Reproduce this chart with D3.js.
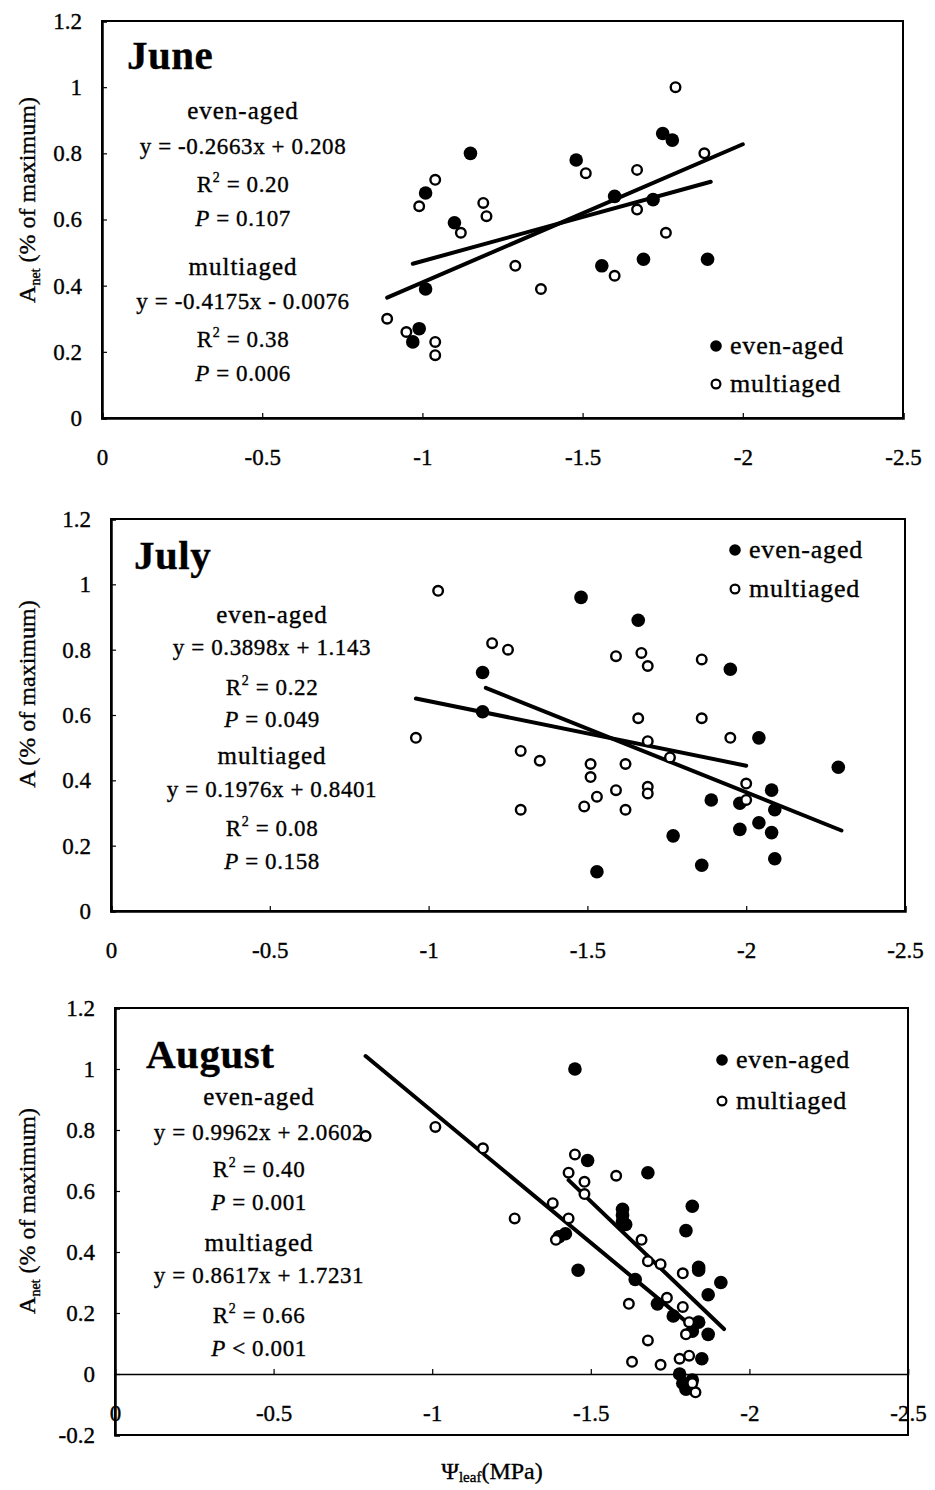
<!DOCTYPE html>
<html>
<head>
<meta charset="utf-8">
<script src="https://cdnjs.cloudflare.com/ajax/libs/d3/7.8.5/d3.min.js"></script>
<style>
body { margin: 0; background: #fff; }
svg text { font-family: "Liberation Serif", "Times New Roman", serif; fill: #000; stroke: #000; stroke-width: 0.35px; }
</style>
</head>
<body>
<div id="chart"></div>
<script>
// tick values (shared)
var xTicks = [0, -0.5, -1, -1.5, -2, -2.5];
var yTicks = [0, 0.2, 0.4, 0.6, 0.8, 1, 1.2];
var yTicksAug = [-0.2, 0, 0.2, 0.4, 0.6, 0.8, 1, 1.2];
var seriesNames = ["even-aged", "multiaged"];

// June
var juneEvenX = [-1.15, -1.01, -1.10, -1.01, -0.99, -0.97, -1.48, -1.60, -1.56, -1.69, -1.72, -1.75, -1.78, -1.89];
var juneEvenY = [0.80, 0.68, 0.59, 0.39, 0.27, 0.23, 0.78, 0.67, 0.46, 0.48, 0.66, 0.86, 0.84, 0.48];
var juneMultiX = [-1.79, -1.88, -1.51, -1.67, -1.67, -1.76, -1.60, -1.04, -0.99, -1.19, -1.20, -1.12, -1.29, -1.37, -0.89, -0.95, -1.04, -1.04];
var juneMultiY = [1.00, 0.80, 0.74, 0.75, 0.63, 0.56, 0.43, 0.72, 0.64, 0.65, 0.61, 0.56, 0.46, 0.39, 0.30, 0.26, 0.23, 0.19];
var juneEvenFit = [-0.2663, 0.208], juneEvenRange = [-0.97, -1.90];
var juneMultiFit = [-0.4175, -0.0076], juneMultiRange = [-0.89, -2.0];
var juneStats = ["y = -0.2663x + 0.208", "0.20", "= 0.107", "y = -0.4175x - 0.0076", "0.38", "= 0.006"];

// July
var julyEvenX = [-1.48, -1.66, -1.17, -1.17, -1.95, -2.04, -2.29, -2.08, -1.89, -1.98, -2.09, -1.98, -2.04, -2.08, -1.77, -1.86, -2.09, -1.53];
var julyEvenY = [0.96, 0.89, 0.73, 0.61, 0.74, 0.53, 0.44, 0.37, 0.34, 0.33, 0.31, 0.25, 0.27, 0.24, 0.23, 0.14, 0.16, 0.12];
var julyMultiX = [-1.03, -1.20, -1.25, -0.96, -1.29, -1.35, -1.29, -1.59, -1.67, -1.69, -1.86, -1.66, -1.86, -1.95, -1.69, -1.76, -1.51, -1.51, -1.62, -1.59, -1.69, -1.69, -1.53, -1.49, -1.62, -2.00, -2.00];
var julyMultiY = [0.98, 0.82, 0.80, 0.53, 0.49, 0.46, 0.31, 0.78, 0.79, 0.75, 0.77, 0.59, 0.59, 0.53, 0.52, 0.47, 0.45, 0.41, 0.45, 0.37, 0.38, 0.36, 0.35, 0.32, 0.31, 0.39, 0.34];
var julyEvenFit = [0.3898, 1.143], julyEvenRange = [-1.18, -2.30];
var julyMultiFit = [0.1976, 0.8401], julyMultiRange = [-0.96, -2.0];
var julyStats = ["y = 0.3898x + 1.143", "0.22", "= 0.049", "y = 0.1976x + 0.8401", "0.08", "= 0.158"];

// August
var augEvenX = [-1.45, -1.49, -1.68, -1.60, -1.60, -1.60, -1.61, -1.82, -1.80, -1.84, -1.84, -1.91, -1.87, -1.46, -1.42, -1.40, -1.64, -1.71, -1.76, -1.84, -1.82, -1.87, -1.85, -1.78, -1.79, -1.82, -1.80];
var augEvenY = [1.00, 0.70, 0.66, 0.54, 0.52, 0.50, 0.49, 0.55, 0.47, 0.35, 0.34, 0.30, 0.26, 0.34, 0.46, 0.45, 0.31, 0.23, 0.19, 0.17, 0.14, 0.13, 0.05, 0.00, -0.03, -0.02, -0.05];
var augMultiX = [-0.79, -1.01, -1.16, -1.26, -1.38, -1.43, -1.39, -1.45, -1.43, -1.48, -1.48, -1.58, -1.66, -1.68, -1.72, -1.79, -1.74, -1.79, -1.81, -1.80, -1.62, -1.68, -1.63, -1.72, -1.78, -1.81, -1.83, -1.82];
var augMultiY = [0.78, 0.81, 0.74, 0.51, 0.56, 0.51, 0.44, 0.72, 0.66, 0.63, 0.59, 0.65, 0.44, 0.37, 0.36, 0.33, 0.25, 0.22, 0.17, 0.13, 0.23, 0.11, 0.04, 0.03, 0.05, 0.06, -0.06, -0.03];
var augEvenFit = [0.9962, 2.0602], augEvenRange = [-1.43, -1.92];
var augMultiFit = [0.8617, 1.7231], augMultiRange = [-0.79, -1.83];
var augStats = ["y = 0.9962x + 2.0602", "0.40", "= 0.001", "y = 0.8617x + 1.7231", "0.66", "< 0.001"];

var svg = d3.select("#chart")
  .append("svg")
  .attr("width", 935)
  .attr("height", 1490);

// layout of each panel in page pixels
var panels = [
  {title: "June", sub: "net", left: 102, right: 903, top: 21, bottom: 418, yMin: 0, ticks: yTicks,
   evenX: juneEvenX, evenY: juneEvenY, multiX: juneMultiX, multiY: juneMultiY,
   evenFit: juneEvenFit, evenRange: juneEvenRange, multiFit: juneMultiFit, multiRange: juneMultiRange,
   stats: juneStats, titleX: 127, titleY: 69, statX: 243, statY: [119, 154, 192, 226, 275, 309, 347, 381],
   legX: 716, legY: [346, 384], yTitleY: 200},
  {title: "July", sub: "", left: 111, right: 905, top: 519, bottom: 911, yMin: 0, ticks: yTicks,
   evenX: julyEvenX, evenY: julyEvenY, multiX: julyMultiX, multiY: julyMultiY,
   evenFit: julyEvenFit, evenRange: julyEvenRange, multiFit: julyMultiFit, multiRange: julyMultiRange,
   stats: julyStats, titleX: 134, titleY: 569, statX: 272, statY: [623, 655, 695, 727, 764, 797, 836, 869],
   legX: 735, legY: [550, 589], yTitleY: 694},
  {title: "August", sub: "net", left: 115, right: 908, top: 1008, bottom: 1435, yMin: -0.2, ticks: yTicksAug,
   evenX: augEvenX, evenY: augEvenY, multiX: augMultiX, multiY: augMultiY,
   evenFit: augEvenFit, evenRange: augEvenRange, multiFit: augMultiFit, multiRange: augMultiRange,
   stats: augStats, titleX: 146, titleY: 1068, statX: 259, statY: [1105, 1140, 1177, 1210, 1251, 1283, 1323, 1356],
   legX: 722, legY: [1060, 1101], yTitleY: 1211}
];

var fmt = d => String(+d.toFixed(1));

panels.forEach(p => {
  var x = d3.scaleLinear().domain([0, -2.5]).range([p.left, p.right]);
  var y = d3.scaleLinear().domain([p.yMin, 1.2]).range([p.bottom, p.top]);
  var g = svg.append("g");

  // box
  g.append("rect")
    .attr("x", p.left).attr("y", p.top)
    .attr("width", p.right - p.left).attr("height", p.bottom - p.top)
    .attr("fill", "none").attr("stroke", "#000").attr("stroke-width", 2);

  // y axis
  var yAxis = g.append("g")
    .attr("transform", `translate(${p.left},0)`)
    .call(d3.axisLeft(y).tickValues(p.ticks).tickFormat(fmt).tickSize(-5).tickPadding(20));
  yAxis.select(".domain").attr("stroke-width", 2.5);

  // x axis sits on y = 0
  var xAxis = g.append("g")
    .attr("transform", `translate(0,${y(0)})`)
    .call(d3.axisBottom(x).tickValues(xTicks).tickFormat(fmt).tickSize(-5).tickPadding(31));
  xAxis.select(".domain").attr("stroke-width", p.yMin < 0 ? 1.5 : 2.5);

  g.selectAll(".tick line").attr("stroke-width", 1.2);
  g.selectAll(".tick text")
    .style("font-family", "Liberation Serif")
    .style("font-size", "23px");

  // y axis title
  var yt = g.append("text")
    .attr("transform", `translate(35,${p.yTitleY}) rotate(-90)`)
    .attr("text-anchor", "middle")
    .style("font-size", "24px");
  yt.append("tspan").text("A");
  if (p.sub) yt.append("tspan").attr("dy", 5).style("font-size", "14px").text(p.sub);
  yt.append("tspan").attr("dy", p.sub ? -5 : 0).text(" (% of maximum)");

  // panel title
  g.append("text")
    .attr("x", p.titleX).attr("y", p.titleY)
    .style("font-size", "41px").style("font-weight", "bold")
    .style("letter-spacing", "0.5px")
    .text(p.title);

  // regression lines
  [[p.evenFit, p.evenRange], [p.multiFit, p.multiRange]].forEach(f => {
    var pts = f[1].map(v => [v, f[0][0] * v + f[0][1]]);
    g.append("path")
      .attr("d", d3.line().x(d => x(d[0])).y(d => y(d[1]))(pts))
      .attr("stroke", "#000").attr("stroke-width", 4).attr("stroke-linecap", "round")
      .attr("fill", "none");
  });

  // points: even-aged filled, multiaged open
  g.selectAll("circle.even")
    .data(d3.zip(p.evenX, p.evenY))
    .enter().append("circle")
    .attr("class", "even")
    .attr("cx", d => x(d[0])).attr("cy", d => y(d[1]))
    .attr("r", 6.8).attr("fill", "#000");

  g.selectAll("circle.multi")
    .data(d3.zip(p.multiX, p.multiY))
    .enter().append("circle")
    .attr("class", "multi")
    .attr("cx", d => x(d[0])).attr("cy", d => y(d[1]))
    .attr("r", 4.8).attr("fill", "#fff").attr("stroke", "#000").attr("stroke-width", 2.4);

  // equations block
  var lines = [seriesNames[0], p.stats[0], "R2", "P1", seriesNames[1], p.stats[3], "R2b", "P2"];
  lines.forEach((ln, i) => {
    var t = g.append("text")
      .attr("x", p.statX).attr("y", p.statY[i])
      .attr("text-anchor", "middle")
      .style("font-size", "23px")
      .style("letter-spacing", "0.6px");
    if (ln === "R2" || ln === "R2b") {
      t.append("tspan").text("R");
      t.append("tspan").attr("dy", -10).style("font-size", "14px").text("2");
      t.append("tspan").attr("dy", 10).text(" = " + (ln === "R2" ? p.stats[1] : p.stats[4]));
    } else if (ln === "P1" || ln === "P2") {
      t.append("tspan").style("font-style", "italic").text("P");
      t.append("tspan").text("  " + (ln === "P1" ? p.stats[2] : p.stats[5]));
    } else if (i === 0 || i === 4) {
      t.style("font-size", "25px").style("letter-spacing", "1px").text(ln);
    } else {
      t.text(ln);
    }
  });

  // legend
  g.append("circle").attr("cx", p.legX).attr("cy", p.legY[0]).attr("r", 5.8).attr("fill", "#000");
  g.append("circle").attr("cx", p.legX).attr("cy", p.legY[1]).attr("r", 4.4)
    .attr("fill", "#fff").attr("stroke", "#000").attr("stroke-width", 2.2);
  seriesNames.forEach((s, i) => {
    g.append("text")
      .attr("x", p.legX + 14).attr("y", p.legY[i] + 8)
      .style("font-size", "26px")
      .style("letter-spacing", "0.8px")
      .text(s);
  });
});

// shared x axis title
var xt = svg.append("text")
  .attr("x", 492).attr("y", 1479)
  .attr("text-anchor", "middle")
  .style("font-size", "24px");
xt.append("tspan").text("\u03A8");
xt.append("tspan").attr("dy", 3).style("font-size", "15px").text("leaf");
xt.append("tspan").attr("dy", -3).text("(MPa)");
</script>
</body>
</html>
